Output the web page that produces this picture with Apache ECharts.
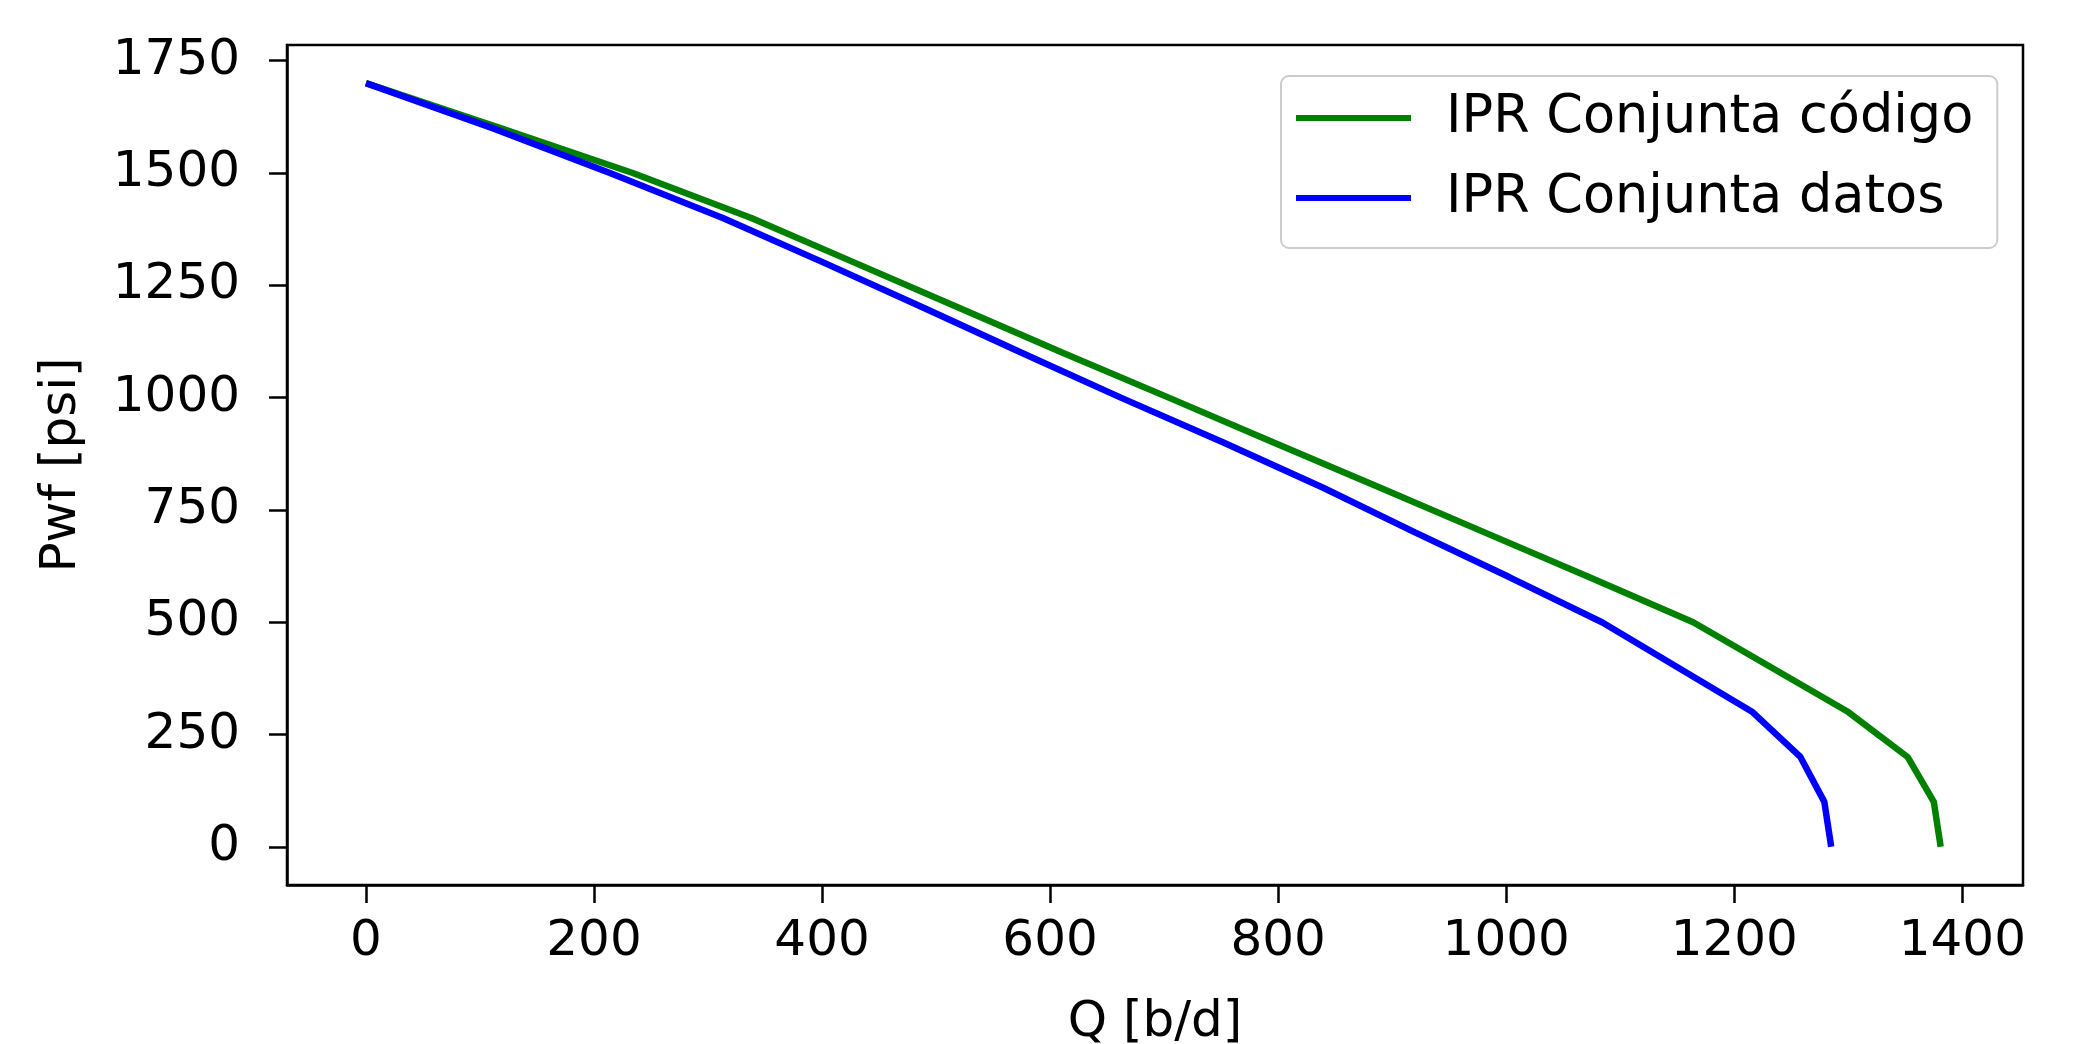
<!DOCTYPE html>
<html>
<head>
<meta charset="utf-8">
<script src="https://cdn.jsdelivr.net/npm/echarts@6/dist/echarts.min.js"></script>
<style>
html,body{margin:0;padding:0;background:#fff;}
#chart{width:2079px;height:1044px;}
</style>
</head>
<body>
<div id="chart"></div>
<script>
// Pwf levels [psi]
const pwf = [1700,1600,1500,1400,1300,1200,1100,1000,900,800,700,600,500,300,200,100,0];
// Q [b/d] for each curve
const qCodigo = [0,118,234,338,429,520,611,704,796,889,981,1073,1164,1300,1352,1375,1381];
const qDatos  = [0,111,214,313,402,489,575,662,752,839,920,1003,1084,1216,1258,1279,1285];
const seriesNames = ['IPR Conjunta código', 'IPR Conjunta datos'];
const xTicks = [0,200,400,600,800,1000,1200,1400];
const yTicks = [0,250,500,750,1000,1250,1500,1750];

const font = 'DejaVu Sans';
const fs = 50;
const chart = echarts.init(document.getElementById('chart'), null, {renderer:'canvas'});
const toPairs = (q) => q.map((v,i) => [v, pwf[i]]);
const plain = (v) => String(v);

chart.setOption({
  animation: false,
  backgroundColor: '#ffffff',
  grid: {left: 287, right: 56, top: 45, bottom: 159, show: true, borderColor: '#000', borderWidth: 2.5,
         backgroundColor: 'transparent', containLabel: false, outerBoundsMode: 'none'},
  legend: {
    left: 1281, top: 76,
    orient: 'vertical',
    icon: 'rect',
    itemWidth: 115, itemHeight: 6,
    itemGap: 22,
    padding: [13, 24, 21, 15],
    backgroundColor: 'rgba(255,255,255,0.8)',
    borderColor: '#cccccc', borderWidth: 2, borderRadius: 8,
    textStyle: {fontFamily: font, fontSize: 52.5, color: '#000', lineHeight: 58, padding: [0,0,0,30]},
    data: seriesNames
  },
  xAxis: {
    type: 'value', min: -69.2, max: 1453.2,
    name: 'Q [b/d]', nameLocation: 'middle', nameGap: 113,
    nameTextStyle: {fontFamily: font, fontSize: fs, color: '#000'},
    axisLine: {show: true, onZero: false, lineStyle: {color: '#000', width: 2.5}},
    axisTick: {show: true, inside: false, length: 18, customValues: xTicks, lineStyle: {color: '#000', width: 2.5}},
    axisLabel: {fontFamily: font, fontSize: fs, color: '#000', margin: 32, customValues: xTicks, formatter: plain},
    splitLine: {show: false}
  },
  yAxis: {
    type: 'value', min: -85, max: 1785,
    name: 'Pwf [psi]', nameLocation: 'middle', nameGap: 200, nameRotate: 90,
    nameTextStyle: {fontFamily: font, fontSize: fs, color: '#000'},
    axisLine: {show: true, onZero: false, lineStyle: {color: '#000', width: 2.5}},
    axisTick: {show: true, inside: false, length: 18, customValues: yTicks, lineStyle: {color: '#000', width: 2.5}},
    axisLabel: {fontFamily: font, fontSize: fs, color: '#000', margin: 47, customValues: yTicks, formatter: plain},
    splitLine: {show: false}
  },
  series: [
    {name: seriesNames[0], type: 'line', data: toPairs(qCodigo), showSymbol: false, symbol: 'none',
     color: '#008000', lineStyle: {color: '#008000', width: 6.5}},
    {name: seriesNames[1], type: 'line', data: toPairs(qDatos), showSymbol: false, symbol: 'none',
     color: '#0000ff', lineStyle: {color: '#0000ff', width: 6.5}}
  ]
});
</script>
</body>
</html>
